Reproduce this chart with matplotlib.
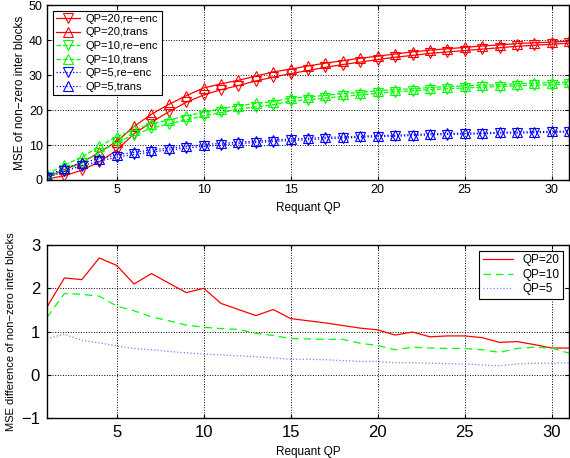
import numpy as np
import matplotlib
matplotlib.use("Agg")
import matplotlib.pyplot as plt

plt.rcParams['font.family'] = ['Liberation Sans', 'DejaVu Sans']

qp = list(range(1, 32))

# MSE of non-zero inter blocks (top)
red_reenc = [0.3, 1.2, 2.8, 5.2, 8.5, 13.2, 16.5, 19.5, 22.2, 24.3, 25.8, 27.0, 28.3, 29.4, 30.4, 31.3,
             32.2, 33.0, 33.7, 34.4, 35.1, 35.6, 36.2, 36.6, 37.0, 37.4, 37.8, 38.2, 38.5, 38.8, 39.1]
red_trans = [0.8, 3.0, 5.0, 7.9, 11.0, 15.3, 18.8, 21.6, 24.1, 26.3, 27.5, 28.5, 29.7, 30.9, 31.7, 32.6,
             33.4, 34.1, 34.8, 35.4, 36.0, 36.6, 37.1, 37.5, 37.9, 38.3, 38.6, 39.0, 39.2, 39.4, 39.7]
green_reenc = [0.8, 2.8, 4.8, 7.8, 10.8, 12.8, 14.8, 16.0, 17.2, 18.3, 19.3, 20.2, 20.9, 21.5, 22.6, 22.9,
               23.4, 23.9, 24.3, 24.8, 25.2, 25.5, 25.8, 26.1, 26.3, 26.5, 26.7, 26.9, 27.1, 27.2, 27.5]
green_trans = [1.6, 4.3, 6.5, 9.6, 12.4, 14.3, 16.1, 17.2, 18.3, 19.4, 20.4, 21.2, 21.9, 22.4, 23.4, 23.7,
               24.2, 24.7, 25.0, 25.5, 25.8, 26.1, 26.4, 26.7, 26.9, 27.1, 27.2, 27.5, 27.7, 27.8, 28.0]
blue_reenc = [0.6, 2.5, 4.1, 5.4, 6.5, 7.3, 8.0, 8.6, 9.1, 9.6, 10.0, 10.4, 10.7, 11.0, 11.3, 11.5,
              11.8, 12.0, 12.2, 12.4, 12.5, 12.7, 12.9, 13.0, 13.1, 13.2, 13.4, 13.4, 13.5, 13.6, 13.7]
blue_trans = [1.2, 3.4, 4.9, 6.1, 7.2, 7.9, 8.6, 9.1, 9.6, 10.1, 10.5, 10.8, 11.1, 11.4, 11.7, 11.9,
              12.2, 12.3, 12.5, 12.7, 12.8, 13.0, 13.2, 13.3, 13.4, 13.4, 13.6, 13.7, 13.8, 13.9, 14.0]

# MSE difference (bottom)
diff20 = [1.57, 2.24, 2.2, 2.7, 2.53, 2.1, 2.34, 2.12, 1.9, 2.0, 1.65, 1.51, 1.37, 1.51, 1.3, 1.25,
          1.2, 1.14, 1.08, 1.04, 0.92, 0.99, 0.88, 0.9, 0.9, 0.86, 0.75, 0.77, 0.7, 0.62, 0.62]
diff10 = [1.33, 1.88, 1.86, 1.82, 1.59, 1.48, 1.34, 1.25, 1.15, 1.1, 1.07, 1.05, 0.96, 0.91, 0.84, 0.83,
          0.82, 0.82, 0.73, 0.68, 0.58, 0.64, 0.62, 0.61, 0.61, 0.58, 0.52, 0.61, 0.64, 0.62, 0.5]
diff5 = [0.84, 0.94, 0.8, 0.74, 0.67, 0.61, 0.58, 0.54, 0.51, 0.48, 0.46, 0.44, 0.42, 0.39, 0.36, 0.36,
         0.35, 0.33, 0.31, 0.31, 0.28, 0.28, 0.27, 0.26, 0.25, 0.23, 0.21, 0.25, 0.27, 0.27, 0.28]

fig = plt.figure(figsize=(5.7, 4.58), dpi=100)
ax1 = fig.add_axes([0.0825, 0.607, 0.916, 0.382])
ax2 = fig.add_axes([0.0825, 0.087, 0.916, 0.378])

red, green, blue = '#ff0000', '#00ff00', '#0000ff'
mk = dict(markersize=7, markerfacecolor='none', markeredgewidth=0.8, linewidth=0.9)
ax1.plot(qp, red_reenc, '-', marker='v', color=red, label='QP=20,re\u2212enc', **mk)
ax1.plot(qp, red_trans, '-', marker='^', color=red, label='QP=20,trans', **mk)
ax1.plot(qp, green_reenc, '--', marker='v', color=green, label='QP=10,re\u2212enc', **mk)
ax1.plot(qp, green_trans, '--', marker='^', color=green, label='QP=10,trans', **mk)
ax1.plot(qp, blue_reenc, ':', marker='v', color=blue, label='QP=5,re\u2212enc', **mk)
ax1.plot(qp, blue_trans, ':', marker='^', color=blue, label='QP=5,trans', **mk)
ax1.set_xlim(1, 31)
ax1.set_ylim(0, 50)
ax1.set_xticks([5, 10, 15, 20, 25, 30])
ax1.set_yticks([0, 10, 20, 30, 40, 50])
ax1.set_xlabel('Requant QP', fontsize=8.5, labelpad=4)
ax1.set_ylabel('MSE of non\u2212zero inter blocks', fontsize=8.5, labelpad=2)
ax1.tick_params(labelsize=9, direction='in', top=True, right=True, length=3, pad=3)
ax1.grid(True, linestyle=':', color='black', linewidth=0.7)
leg = ax1.legend(loc='upper left', fontsize=8, fancybox=False, edgecolor='black', framealpha=1,
                 labelspacing=0.32, handlelength=2.2, borderaxespad=0.5, borderpad=0.3, handletextpad=0.5)
leg.get_frame().set_linewidth(0.8)

ax2.plot(qp, diff20, '-', color=red, linewidth=0.9, label='QP=20')
ax2.plot(qp, diff10, '--', color=green, linewidth=0.9, dashes=(6, 4), label='QP=10')
ax2.plot(qp, diff5, ':', color='#8080ff', linewidth=0.9, label='QP=5')
ax2.set_xlim(1, 31)
ax2.set_ylim(-1, 3)
ax2.set_xticks([5, 10, 15, 20, 25, 30])
ax2.set_yticks([-1, 0, 1, 2, 3])
ax2.set_yticklabels(['\u22121', '0', '1', '2', '3'])
ax2.set_xlabel('Requant QP', fontsize=8.5, labelpad=4)
ax2.set_ylabel('MSE difference of non\u2212zero inter blocks', fontsize=8, labelpad=4)
ax2.tick_params(labelsize=12, direction='in', top=True, right=True, length=3, pad=5)
ax2.grid(True, linestyle=':', color='black', linewidth=0.7)
leg2 = ax2.legend(loc='upper right', fontsize=8.5, fancybox=False, edgecolor='black', framealpha=1,
                  labelspacing=0.2, handlelength=2.6, borderaxespad=0.5, borderpad=0.3, handletextpad=0.8)
leg2.get_frame().set_linewidth(0.8)

for ax in (ax1, ax2):
    for s in ax.spines.values():
        s.set_linewidth(1.0)

fig.savefig('out.png', dpi=100)
